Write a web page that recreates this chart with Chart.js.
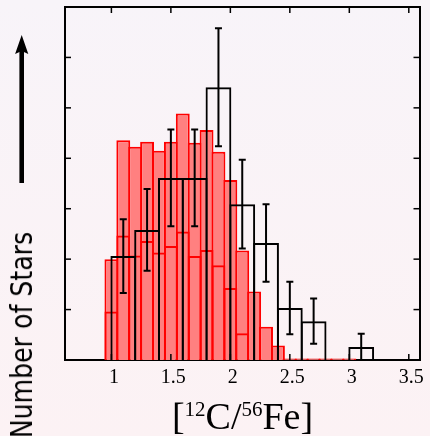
<!DOCTYPE html>
<html>
<head>
<meta charset="utf-8">
<script src="https://cdn.jsdelivr.net/npm/chart.js@4.4.0/dist/chart.umd.min.js"></script>
<style>
  html, body { margin: 0; padding: 0; }
  #wrap {
    position: relative; width: 430px; height: 436px; overflow: hidden;
    background: linear-gradient(#f8f4f9, #fcf2f4);
  }
  #hist { position: absolute; left: 0; top: 0; }
  #xTitle {
    position: absolute; left: 65px; width: 355px; top: 397px;
    text-align: center; white-space: nowrap; color: #000;
    font: 38px/38px "Liberation Serif", serif;
  }
  #xTitle sup { font-size: 21px; vertical-align: 0; position: relative; top: -13px; }
  #yTitle {
    position: absolute; left: 22px; top: 335px; white-space: nowrap; color: #000;
    font: 30px/30px "DejaVu Sans", sans-serif;
    transform: translate(-50%, -50%) rotate(-90deg) scaleX(0.84);
  }
</style>
</head>
<body>
<div id="wrap">
  <canvas id="hist" width="430" height="436"></canvas>
  <div id="xTitle">[<sup>12</sup>C/<sup>56</sup>Fe]</div>
  <div id="yTitle">Number of Stars</div>
</div>
<script>
  // fine bins (width 0.1): full sample and sub-sample
  const redBins = [1.0, 1.1, 1.2, 1.3, 1.4, 1.5, 1.6, 1.7, 1.8, 1.9, 2.0,
                   2.1, 2.2, 2.3, 2.4, 2.5, 2.6, 2.7, 2.8, 2.9, 3.0];
  const redAll  = [2.00, 4.36, 4.23, 4.33, 4.15, 4.33, 4.89, 4.31, 4.56, 4.13, 3.57,
                   2.17, 1.36, 0.66, 0.29, 0.03, 0.03, 0.03, 0.03, 0.03, 0.03];
  const redSub  = [0.96, 2.47, 2.07, 2.36, 2.13, 2.26, 2.55, 2.06, 2.18, 1.88, 1.43,
                   0.53, null, null, null, null, null, null, null, null, null];

  // coarse bins (width 0.2) with poisson errors
  const blackBins = [1.1, 1.3, 1.5, 1.7, 1.9, 2.1, 2.3, 2.5, 2.7, 2.9, 3.1];
  const blackVals = [2.06, 2.58, 3.61, 3.61, 5.41, 3.09, 2.32, 1.03, 0.77, null, 0.26];
  const blackErr  = [0.73, 0.81, 0.96, 0.96, 1.17, 0.88, 0.77, 0.52, 0.45, null, 0.26];

  const xTickValues = [1, 1.5, 2, 2.5, 3, 3.5];
  const yTickValues = [0, 1, 2, 3, 4, 5, 6, 7];

  const pts = (xs, ys) => xs.map((x, i) => ({ x, y: ys[i] }));

  // vertical error segments, broken by null points
  const errSegments = [];
  blackBins.forEach((x, i) => {
    if (blackVals[i] == null) return;
    errSegments.push(
      { x, y: blackVals[i] - blackErr[i] },
      { x, y: blackVals[i] + blackErr[i] },
      { x, y: null }
    );
  });

  const setTicks = vals => scale => { scale.ticks = vals.map(v => ({ value: v })); };
  const fixSize = (key, n) => scale => { scale[key] = n; };

  const frame = { display: true, color: '#000', width: 2 };

  // inward tick marks on all four sides + the arrow next to the y title
  const frameTicks = {
    id: 'frameTicks',
    afterDraw(chart) {
      const { ctx, chartArea: a, scales } = chart;
      const len = 6;
      ctx.save();
      ctx.strokeStyle = '#000';
      ctx.lineWidth = 1.5;
      [['x', a.bottom, -1], ['x2', a.top, 1]].forEach(([id, edge, dir]) => {
        scales[id].ticks.forEach(t => {
          const px = scales[id].getPixelForValue(t.value);
          ctx.beginPath(); ctx.moveTo(px, edge); ctx.lineTo(px, edge + dir * len); ctx.stroke();
        });
      });
      [['y', a.left, 1], ['y2', a.right, -1]].forEach(([id, edge, dir]) => {
        scales[id].ticks.forEach(t => {
          const py = scales[id].getPixelForValue(t.value);
          ctx.beginPath(); ctx.moveTo(edge, py); ctx.lineTo(edge + dir * len, py); ctx.stroke();
        });
      });

      ctx.fillStyle = '#000';
      ctx.fillRect(19.4, 50, 4.6, 133);
      ctx.beginPath();
      ctx.moveTo(21.7, 35);
      ctx.lineTo(28.3, 54);
      ctx.lineTo(21.7, 51);
      ctx.lineTo(15.1, 54);
      ctx.closePath();
      ctx.fill();
      ctx.restore();
    }
  };

  new Chart(document.getElementById('hist'), {
    type: 'bar',
    data: {
      datasets: [
        {
          type: 'line',
          data: errSegments,
          xAxisID: 'x2', yAxisID: 'y',
          borderColor: '#000', borderWidth: 2,
          pointStyle: 'line', pointRadius: 3.5,
          pointBorderColor: '#000', pointBorderWidth: 2,
          spanGaps: false, order: 0
        },
        {
          data: pts(blackBins, blackVals),
          xAxisID: 'x2', yAxisID: 'y',
          backgroundColor: 'rgba(0,0,0,0)', borderColor: '#000',
          borderWidth: { top: 2, left: 2, right: 2, bottom: 0 },
          categoryPercentage: 1, barPercentage: 1.084,
          grouped: false, order: 1
        },
        {
          data: pts(redBins, redSub),
          xAxisID: 'x', yAxisID: 'y',
          backgroundColor: 'rgba(0,0,0,0)', borderColor: '#ff0000',
          borderWidth: { top: 2, left: 2, right: 2, bottom: 0 },
          categoryPercentage: 1, barPercentage: 1.168,
          grouped: false, order: 2
        },
        {
          data: pts(redBins, redAll),
          xAxisID: 'x', yAxisID: 'y',
          backgroundColor: '#ff8080', borderColor: '#ff0000',
          borderWidth: { top: 2, left: 2, right: 2, bottom: 0 },
          categoryPercentage: 1, barPercentage: 1.168,
          grouped: false, order: 3
        }
      ]
    },
    options: {
      responsive: false,
      animation: false,
      events: [],
      layout: { padding: 0 },
      plugins: { legend: { display: false }, tooltip: { enabled: false } },
      scales: {
        x: {
          type: 'linear', position: 'bottom', min: 0.61, max: 3.59, offset: false, z: 1,
          grid: { display: false }, border: frame,
          afterBuildTicks: setTicks(xTickValues),
          afterFit: fixSize('height', 76),
          ticks: {
            autoSkip: false, maxRotation: 0, padding: -2, labelOffset: 2.5, color: '#000',
            font: { family: 'Liberation Serif', size: 20 },
            callback: v => String(v)
          }
        },
        x2: {
          type: 'linear', position: 'top', min: 0.61, max: 3.59, offset: false, z: 1,
          grid: { display: false }, border: frame,
          afterBuildTicks: setTicks(xTickValues),
          afterFit: fixSize('height', 7),
          ticks: { display: false }
        },
        y: {
          type: 'linear', position: 'left', min: 0, max: 7, z: 1,
          grid: { display: false }, border: frame,
          afterBuildTicks: setTicks(yTickValues),
          afterFit: fixSize('width', 65),
          ticks: { display: false }
        },
        y2: {
          type: 'linear', position: 'right', min: 0, max: 7, z: 1,
          grid: { display: false }, border: frame,
          afterBuildTicks: setTicks(yTickValues),
          afterFit: fixSize('width', 10.5),
          ticks: { display: false }
        }
      }
    },
    plugins: [frameTicks]
  });
</script>
</body>
</html>
